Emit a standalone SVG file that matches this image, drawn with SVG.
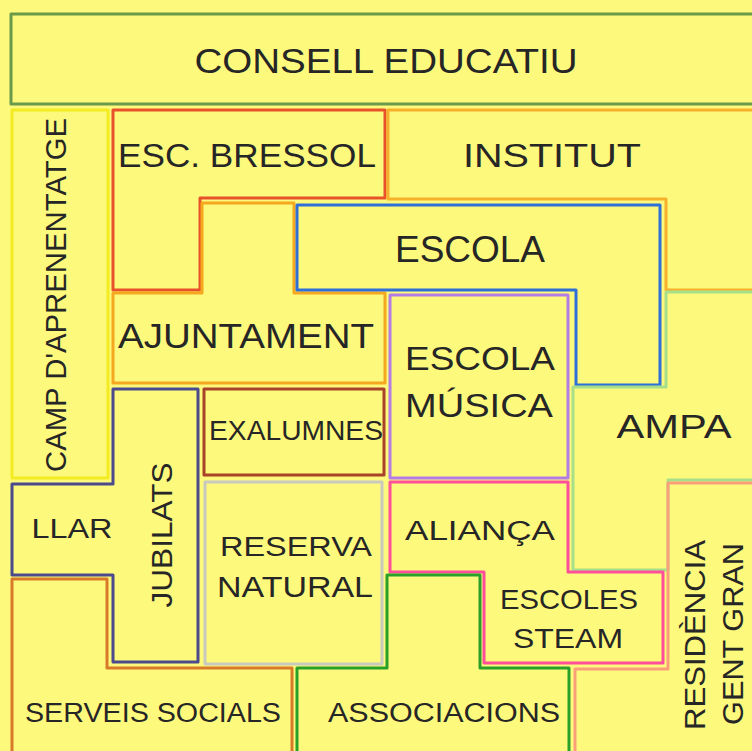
<svg xmlns="http://www.w3.org/2000/svg" width="752" height="751" viewBox="0 0 752 751">
<style>
.s{fill:none;stroke-width:3;stroke-linejoin:round}
text{font-family:"Liberation Sans","DejaVu Sans",sans-serif;fill:#262626;text-anchor:middle;lengthAdjust:spacingAndGlyphs}
</style>
<rect x="0" y="0" width="752" height="751" fill="#fdf97c"/>
<g id="consell"><rect class="s" stroke="#6b9a4a" x="11" y="14" width="750" height="90"/>
<text x="386" y="73" font-size="35" textLength="383" lengthAdjust="spacingAndGlyphs">CONSELL EDUCATIU</text></g>
<g id="camp"><rect class="s" stroke="#f3ec22" x="12" y="110" width="96" height="368"/>
<text transform="translate(66,295) rotate(-90)" font-size="30" textLength="354" lengthAdjust="spacingAndGlyphs">CAMP D'APRENENTATGE</text></g>
<g id="bressol"><path class="s" stroke="#e8522a" d="M113,110H385V198H200V290H113Z"/>
<text x="247" y="167" font-size="33" textLength="258" lengthAdjust="spacingAndGlyphs">ESC. BRESSOL</text></g>
<g id="institut"><path class="s" stroke="#f7b02a" d="M388,110H762V290H666V199H388Z"/>
<text x="552" y="167" font-size="34" textLength="178" lengthAdjust="spacingAndGlyphs">INSTITUT</text></g>
<g id="ajuntament"><path class="s" stroke="#f5a81f" d="M202,203H294V293H385V383H113V293H202Z"/>
<text x="246" y="348" font-size="35" textLength="256" lengthAdjust="spacingAndGlyphs">AJUNTAMENT</text></g>
<g id="escola"><path class="s" stroke="#2f6fd8" d="M297,205H660V385H576V290H297Z"/>
<text x="470" y="262" font-size="36" textLength="150" lengthAdjust="spacingAndGlyphs">ESCOLA</text></g>
<g id="musica"><rect class="s" stroke="#b47ce6" x="390" y="295" width="178" height="183"/>
<text x="480" y="370" font-size="34" textLength="150" lengthAdjust="spacingAndGlyphs">ESCOLA</text>
<text x="479" y="417" font-size="34" textLength="148" lengthAdjust="spacingAndGlyphs">MÚSICA</text></g>
<g id="ampa"><path class="s" stroke="#a8e08a" d="M666,292H762V480H668V570H573V387H666Z"/>
<text x="674" y="438" font-size="34" textLength="115" lengthAdjust="spacingAndGlyphs">AMPA</text></g>
<g id="exalumnes"><rect class="s" stroke="#a8432a" x="204" y="389" width="180" height="86"/>
<text x="296" y="440" font-size="27" textLength="174" lengthAdjust="spacingAndGlyphs">EXALUMNES</text></g>
<g id="jubilats"><path class="s" stroke="#4a4a8c" d="M113,389H198V662H113V575H12V484H113Z"/>
<text x="72" y="538" font-size="27" textLength="81" lengthAdjust="spacingAndGlyphs">LLAR</text>
<text transform="translate(172,535) rotate(-90)" font-size="30" textLength="145" lengthAdjust="spacingAndGlyphs">JUBILATS</text></g>
<g id="reserva"><rect class="s" stroke="#c9c9c0" x="205" y="482" width="177" height="182"/>
<text x="296" y="556" font-size="27" textLength="152" lengthAdjust="spacingAndGlyphs">RESERVA</text>
<text x="295" y="597" font-size="29" textLength="156" lengthAdjust="spacingAndGlyphs">NATURAL</text></g>
<g id="alianca"><path class="s" stroke="#ff4f9a" d="M390,482H568V572H663V663H484V572H390Z"/>
<text x="480" y="540" font-size="27" textLength="150" lengthAdjust="spacingAndGlyphs">ALIANÇA</text>
<text x="569" y="609" font-size="28" textLength="138" lengthAdjust="spacingAndGlyphs">ESCOLES</text>
<text x="568" y="648" font-size="28" textLength="110" lengthAdjust="spacingAndGlyphs">STEAM</text></g>
<g id="associacions"><path class="s" stroke="#2aa02a" d="M387,575H480V668H569V760H297V668H387Z"/>
<text x="444" y="722" font-size="27" textLength="232" lengthAdjust="spacingAndGlyphs">ASSOCIACIONS</text></g>
<g id="serveis"><path class="s" stroke="#d87a2a" d="M12,579H107V668H292V760H12Z"/>
<text x="153" y="722" font-size="27" textLength="256" lengthAdjust="spacingAndGlyphs">SERVEIS SOCIALS</text></g>
<g id="residencia"><path class="s" stroke="#f9a07a" d="M668,483H762V760H575V669H668Z"/>
<text transform="translate(705,635) rotate(-90)" font-size="30" textLength="190" lengthAdjust="spacingAndGlyphs">RESIDÈNCIA</text>
<text transform="translate(743,634) rotate(-90)" font-size="30" textLength="182" lengthAdjust="spacingAndGlyphs">GENT GRAN</text></g>
<g id="connectors"></g>
</svg>
